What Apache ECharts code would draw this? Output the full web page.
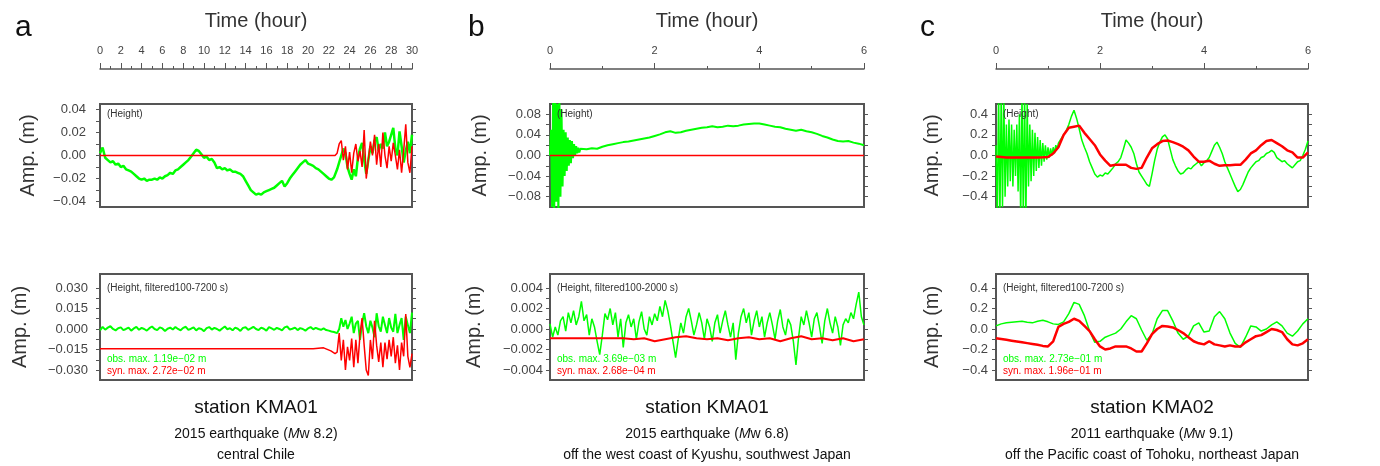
<!DOCTYPE html>
<html>
<head>
<meta charset="utf-8">
<script src="https://cdn.jsdelivr.net/npm/echarts@6/dist/echarts.min.js"></script>
<style>
  html, body { margin: 0; padding: 0; background: #fff; }
  #chart { width: 1380px; height: 466px; }
</style>
</head>
<body>
<div id="chart"></div>
<script>
'use strict';

// ---- panel a : KMA01, 2015 central Chile (hours 0-30) ----
// observed height, 0.25 h steps from 0 to 22.5 h
const aTopObsEarly = [
  0.002, 0.007, -0.002, -0.004, -0.006, -0.005, -0.008, -0.007, -0.010, -0.009,
  -0.012, -0.013, -0.014, -0.016, -0.018, -0.020, -0.021, -0.020, -0.022, -0.021,
  -0.021, -0.020, -0.021, -0.019, -0.020, -0.018, -0.017, -0.015, -0.016, -0.013,
  -0.012, -0.010, -0.008, -0.006, -0.004, -0.001, 0.002, 0.005, 0.004, 0.001,
  -0.002, -0.001, -0.004, -0.003, -0.006, -0.011, -0.010, -0.012, -0.011, -0.013,
  -0.012, -0.014, -0.014, -0.015, -0.016, -0.018, -0.022, -0.026, -0.030, -0.032,
  -0.034, -0.033, -0.034, -0.032, -0.031, -0.030, -0.029, -0.028, -0.026, -0.024,
  -0.022, -0.027, -0.024, -0.020, -0.017, -0.014, -0.011, -0.008, -0.006, -0.004,
  -0.007, -0.008, -0.009, -0.011, -0.012, -0.014, -0.016, -0.018, -0.020, -0.021,
  -0.019
];
// 0.2 h steps from 22.6 to 30 h
const aTopObsLate = [
  -0.019, -0.012, -0.006, 0.000, 0.006, 0.002, -0.010, -0.016, -0.021, -0.012,
  -0.018, -0.002, 0.006, 0.011, -0.004, -0.016, -0.004, 0.008, 0.002, 0.013,
  0.016, 0.004, 0.010, 0.006, 0.020, 0.008, 0.012, 0.018, 0.024, 0.006,
  0.000, 0.021, 0.008, -0.006, 0.004, 0.012, 0.002, 0.018
];
const aTopSynLeadT = [0];
const aTopSynLeadV = [0];
const aTopSynLate = [
  0.000, 0.002, 0.010, 0.013, -0.004, 0.008, -0.012, 0.003, -0.015, 0.002,
  0.010, -0.005, 0.004, -0.010, 0.022, -0.020, -0.004, 0.012, 0.000, 0.018,
  -0.008, 0.010, -0.010, 0.020, 0.000, -0.011, 0.008, -0.005, 0.011, 0.000,
  -0.012, 0.005, -0.015, 0.004, 0.027, -0.006, -0.015, 0.008
];
// filtered 100-7200 s
const aBotObsEarly = [
  -0.0010, 0.0015, -0.0005, 0.0010, 0.0020, 0.0000, -0.0010, 0.0005, 0.0012, -0.0008,
  0.0000, 0.0010, -0.0012, 0.0004, 0.0015, -0.0006, 0.0008, 0.0000, -0.0012, 0.0006,
  0.0018, 0.0000, -0.0008, 0.0012, 0.0004, -0.0015, 0.0002, 0.0010, -0.0004, 0.0014,
  0.0000, -0.0010, 0.0008, 0.0016, -0.0006, 0.0002, 0.0012, -0.0010, 0.0005, 0.0000,
  -0.0016, 0.0006, 0.0014, -0.0004, 0.0008, 0.0000, -0.0012, 0.0004, 0.0018, -0.0002,
  0.0006, -0.0010, 0.0010, 0.0002, -0.0014, 0.0008, 0.0012, -0.0006, 0.0004, 0.0016,
  0.0000, -0.0008, 0.0010, 0.0002, -0.0012, 0.0014, 0.0004, -0.0006, 0.0008, 0.0000,
  -0.0010, 0.0012, 0.0018, -0.0004, 0.0002, 0.0010, -0.0008, 0.0006, 0.0000, -0.0012,
  0.0004, 0.0014, -0.0002, 0.0008, 0.0000, -0.0006, 0.0004, -0.0008, -0.0012, -0.0018,
  -0.0022
];
const aBotObsLate = [
  -0.0025, -0.0030, 0.0000, 0.0078, 0.0017, 0.0066, 0.0000, 0.0040, 0.0090, -0.0030,
  0.0040, 0.0060, -0.0080, 0.0040, 0.0115, 0.0020, -0.0030, 0.0060, 0.0010, -0.0060,
  0.0115, 0.0020, -0.0020, 0.0090, 0.0030, -0.0030, 0.0080, 0.0010, -0.0020, 0.0110,
  -0.0030, 0.0030, 0.0080, -0.0080, 0.0090, 0.0030, -0.0030, 0.0120
];
const aBotSynEarlyT = [0, 20.5, 21.5, 22.2];
const aBotSynEarlyV = [-0.0145, -0.0145, -0.0138, -0.0160];
const aBotSynLate = [
  -0.018, -0.017, -0.003, -0.023, -0.008, -0.030, -0.013, -0.023, -0.007, -0.028,
  -0.008, -0.025, -0.004, 0.008, -0.012, -0.030, -0.034, -0.008, -0.022, 0.006,
  -0.012, -0.024, -0.010, -0.028, -0.010, -0.022, -0.008, -0.020, -0.006, -0.025,
  -0.012, -0.030, -0.010, -0.020, 0.011, -0.020, -0.028, -0.018
];

// ---- panel b : KMA01, 2015 off Kyushu (hours 0-6) ----
const bTopObsEarly = [
  0.00, 0.05, -0.10, 0.12, -0.12, 0.12, -0.09, 0.10, -0.12, 0.11,
  -0.08, 0.09, -0.06, 0.05, -0.04, 0.045, -0.03, 0.035, -0.02, 0.03,
  -0.015, 0.028, -0.005, 0.022, 0.000, 0.018, 0.004, 0.015, 0.006, 0.013,
  0.010
];
const bTopObsLate = [
  0.012, 0.014, 0.013, 0.017, 0.020, 0.022, 0.024, 0.026, 0.027, 0.029,
  0.031, 0.033, 0.035, 0.038, 0.041, 0.045, 0.047, 0.044, 0.045, 0.048,
  0.050, 0.052, 0.054, 0.055, 0.057, 0.055, 0.056, 0.058, 0.057, 0.058,
  0.060, 0.061, 0.062, 0.062, 0.060, 0.058, 0.056, 0.055, 0.052, 0.050,
  0.048, 0.050, 0.047, 0.045, 0.042, 0.038, 0.035, 0.031, 0.028, 0.027,
  0.028, 0.025, 0.023, 0.020
];
const bTopSynT = [0, 6];
const bTopSynV = [0, 0];
// filtered 100-2000 s, 0.05 h steps
const bBotObs = [
  0.0005, -0.0008, 0.0002, -0.0006, 0.0008, 0.0012, -0.0002, 0.0016, 0.0006, 0.0018,
  0.0004, 0.0012, 0.0027, 0.0008, 0.0014, -0.0006, 0.0010, 0.0002, -0.0012, -0.0025,
  -0.0006, 0.0015, 0.0009, 0.0020, 0.0004, 0.0016, -0.0008, 0.0010, -0.0018, 0.0006,
  0.0014, 0.0002, 0.0010, -0.0010, 0.0007, 0.0017, 0.0000, -0.0006, 0.0012, 0.0004,
  0.0015, 0.0008, 0.0022, 0.0012, 0.0028, 0.0018, 0.0004, -0.0012, -0.0028, -0.0010,
  0.0006, -0.0004, 0.0012, 0.0020, 0.0008, -0.0006, 0.0004, 0.0016, 0.0006, -0.0010,
  0.0010, 0.0002, -0.0012, 0.0006, 0.0014, -0.0004, 0.0008, 0.0018, 0.0004, -0.0008,
  0.0006, -0.0030, -0.0004, 0.0012, 0.0020, 0.0006, 0.0016, -0.0006, 0.0008, 0.0018,
  0.0002, 0.0012, -0.0008, 0.0006, 0.0016, 0.0004, -0.0010, 0.0008, 0.0019, 0.0002,
  -0.0006, 0.0010, 0.0004, -0.0012, -0.0035, -0.0008, 0.0012, 0.0004, 0.0018, 0.0006,
  -0.0008, 0.0010, 0.0016, 0.0002, -0.0014, 0.0008, 0.0020, 0.0006, -0.0004, 0.0012,
  0.0002, -0.0016, 0.0004, 0.0010, 0.0006, 0.0016, 0.0010, 0.0024, 0.0036, 0.0012,
  0.0004
];
// 0.2 h steps
const bBotSyn = [
  -0.0009, -0.0009, -0.0009, -0.0009, -0.0009, -0.0009, -0.0009, -0.0009, -0.0010, -0.0009,
  -0.0012, -0.0010, -0.0008, -0.0007, -0.0009, -0.0010, -0.0009, -0.0011, -0.0009, -0.0008,
  -0.0010, -0.0009, -0.0012, -0.0009, -0.0007, -0.0010, -0.0009, -0.0011, -0.0009, -0.0012,
  -0.0010
];

// ---- panel c : KMA02, 2011 off Tohoku (hours 0-6) ----
// 0.025 h steps from 0 to 1.2 h
const cTopObsEarly = [
  0.10, -0.60, 0.60, -0.60, 0.60, -0.50, 0.60, -0.40, 0.30, -0.30,
  0.35, -0.25, 0.30, -0.30, 0.25, -0.20, 0.30, -0.35, 0.40, -0.60,
  0.60, -0.60, 0.60, -0.60, 0.50, -0.30, 0.30, -0.25, 0.25, -0.20,
  0.22, -0.15, 0.18, -0.12, 0.15, -0.10, 0.12, -0.06, 0.10, -0.04,
  0.08, -0.02, 0.07, 0.00, 0.08, 0.02, 0.10, 0.06, 0.12
];
// 0.05 h steps from 1.25 to 6 h
const cTopObsLate = [
  0.16, 0.20, 0.24, 0.30, 0.38, 0.44, 0.36, 0.26, 0.15, 0.08,
  0.02, -0.06, -0.12, -0.18, -0.21, -0.19, -0.20, -0.17, -0.18, -0.15,
  -0.12, -0.08, -0.06, -0.02, 0.06, 0.15, 0.12, 0.08, 0.02, -0.08,
  -0.16, -0.20, -0.24, -0.28, -0.30, -0.18, -0.05, 0.06, 0.13, 0.18,
  0.20, 0.16, 0.06, -0.04, -0.10, -0.15, -0.18, -0.17, -0.14, -0.12,
  -0.13, -0.10, -0.08, -0.06, -0.10, -0.07, -0.05, -0.02, 0.04, 0.10,
  0.13, 0.08, 0.02, -0.06, -0.12, -0.18, -0.24, -0.30, -0.35, -0.33,
  -0.28, -0.22, -0.16, -0.12, -0.09, -0.06, -0.05, -0.02, -0.01, 0.02,
  0.03, 0.05, 0.03, -0.02, -0.04, -0.06, -0.05, -0.08, -0.10, -0.12,
  -0.09, -0.06, -0.05, 0.00, 0.06, 0.14
];
// 0.1 h steps
const cTopSyn = [
  -0.010, -0.015, -0.020, -0.020, -0.020, -0.020, -0.020, -0.020, -0.020, -0.018,
  -0.015, 0.020, 0.080, 0.200, 0.270, 0.280, 0.290, 0.220, 0.160, 0.100,
  0.010, -0.050, -0.100, -0.090, -0.090, -0.090, -0.120, -0.130, -0.120, -0.020,
  0.070, 0.110, 0.140, 0.145, 0.130, 0.110, 0.085, 0.050, -0.010, -0.060,
  -0.060, -0.050, -0.080, -0.100, -0.095, -0.095, -0.090, -0.090, -0.040, 0.020,
  0.050, 0.100, 0.140, 0.150, 0.120, 0.090, 0.050, 0.030, -0.020, -0.020,
  0.030
];
const cBotObs = [
  0.030, 0.050, 0.060, 0.065, 0.070, 0.075, 0.065, 0.060, 0.075, 0.085,
  0.070, 0.050, 0.045, 0.070, 0.150, 0.260, 0.240, 0.130, -0.020, -0.130,
  -0.120, -0.080, -0.060, -0.040, 0.000, 0.070, 0.130, 0.100, -0.010, -0.110,
  -0.050, 0.100, 0.180, 0.180, 0.080, -0.040, -0.100, -0.070, 0.030, 0.060,
  -0.030, -0.020, 0.120, 0.170, 0.100, -0.040, -0.140, -0.180, -0.080, 0.030,
  0.020, -0.020, 0.000, 0.040, 0.070, 0.030, -0.040, -0.070, -0.020, 0.050,
  0.100
];
const cBotSyn = [
  -0.090, -0.098, -0.106, -0.114, -0.122, -0.130, -0.138, -0.146, -0.154, -0.165,
  -0.170, -0.120, 0.020, 0.050, 0.070, 0.100, 0.080, 0.030, -0.020, -0.100,
  -0.170, -0.200, -0.190, -0.170, -0.170, -0.170, -0.190, -0.220, -0.220, -0.140,
  -0.050, 0.000, 0.030, 0.025, 0.015, -0.010, -0.040, -0.080, -0.120, -0.140,
  -0.150, -0.120, -0.150, -0.160, -0.170, -0.160, -0.170, -0.170, -0.130, -0.100,
  -0.070, -0.060, -0.030, 0.000, -0.010, -0.030, -0.100, -0.150, -0.160, -0.140,
  -0.100
];

// ---- axis ticks ----
const aTopYLabels = [-0.04, -0.02, 0, 0.02, 0.04];
const aTopYTicks = [-0.04, -0.03, -0.02, -0.01, 0, 0.01, 0.02, 0.03, 0.04];
const aBotYLabels = [-0.03, -0.015, 0, 0.015, 0.03];
const aBotYTicks = [-0.03, -0.0225, -0.015, -0.0075, 0, 0.0075, 0.015, 0.0225, 0.03];
const bTopYLabels = [-0.08, -0.04, 0, 0.04, 0.08];
const bTopYTicks = [-0.08, -0.06, -0.04, -0.02, 0, 0.02, 0.04, 0.06, 0.08];
const bBotYLabels = [-0.004, -0.002, 0, 0.002, 0.004];
const bBotYTicks = [-0.004, -0.003, -0.002, -0.001, 0, 0.001, 0.002, 0.003, 0.004];
const cYLabels = [-0.4, -0.2, 0, 0.2, 0.4];
const cYTicks = [-0.4, -0.3, -0.2, -0.1, 0, 0.1, 0.2, 0.3, 0.4];

const captions = [
  ['station KMA01', '2015 earthquake ({i|M}w 8.2)', 'central Chile'],
  ['station KMA01', '2015 earthquake ({i|M}w 6.8)', 'off the west coast of Kyushu, southwest Japan'],
  ['station KMA02', '2011 earthquake ({i|M}w 9.1)', 'off the Pacific coast of Tohoku, northeast Japan']
];
const filterNotes = ['(Height, filtered100-7200 s)', '(Height, filtered100-2000 s)', '(Height, filtered100-7200 s)'];
const obsMax = ['obs. max. 1.19e\u221202 m', 'obs. max. 3.69e\u221203 m', 'obs. max. 2.73e\u221201 m'];
const synMax = ['syn. max. 2.72e\u221202 m', 'syn. max. 2.68e\u221204 m', 'syn. max. 1.96e\u221201 m'];

const GREEN = '#00ff00';
const RED = '#ff0000';
const INK = '#333';
const FONT = 'Liberation Sans';

function seg(t0, dt, vals) {
  return vals.map((v, i) => [Math.round((t0 + i * dt) * 1000) / 1000, v]);
}
function pts(ts, vs) {
  return ts.map((t, i) => [t, vs[i]]);
}

const cols = [
  { letter: 'a', left: 100, width: 312, tMax: 30 },
  { letter: 'b', left: 550, width: 314, tMax: 6 },
  { letter: 'c', left: 996, width: 312, tMax: 6 }
];
const rows = [{ top: 104, height: 103 }, { top: 274, height: 106 }];

const plots = [
  { col: 0, row: 0, min: -0.0447, max: 0.0447, labels: aTopYLabels, ticks: aTopYTicks, digits: 2, gap: 62, margin: 14,
    obs: seg(0, 0.25, aTopObsEarly).concat(seg(22.6, 0.2, aTopObsLate)),
    syn: pts(aTopSynLeadT, aTopSynLeadV).concat(seg(22.6, 0.2, aTopSynLate)), ow: 2.5, sw: 1.5 },
  { col: 0, row: 1, min: -0.0373, max: 0.0402, labels: aBotYLabels, ticks: aBotYTicks, digits: 3, gap: 70, margin: 12,
    obs: seg(0, 0.25, aBotObsEarly).concat(seg(22.6, 0.2, aBotObsLate)),
    syn: pts(aBotSynEarlyT, aBotSynEarlyV).concat(seg(22.6, 0.2, aBotSynLate)), ow: 2, sw: 1.5 },
  { col: 1, row: 0, min: -0.1, max: 0.1, labels: bTopYLabels, ticks: bTopYTicks, digits: 2, gap: 60, margin: 9,
    obs: seg(0, 0.02, bTopObsEarly).concat(seg(0.7, 0.1, bTopObsLate)),
    syn: pts(bTopSynT, bTopSynV), ow: 2, sw: 1.5 },
  { col: 1, row: 1, min: -0.00498, max: 0.00537, labels: bBotYLabels, ticks: bBotYTicks, digits: 3, gap: 66, margin: 7,
    obs: seg(0, 0.05, bBotObs), syn: seg(0, 0.2, bBotSyn), ow: 1.5, sw: 2 },
  { col: 2, row: 0, min: -0.5, max: 0.5, labels: cYLabels, ticks: cYTicks, digits: 1, gap: 54, margin: 8,
    obs: seg(0, 0.025, cTopObsEarly).concat(seg(1.25, 0.05, cTopObsLate)),
    syn: seg(0, 0.1, cTopSyn), ow: 1.5, sw: 2.5 },
  { col: 2, row: 1, min: -0.498, max: 0.537, labels: cYLabels, ticks: cYTicks, digits: 1, gap: 54, margin: 8,
    obs: seg(0, 0.1, cBotObs), syn: seg(0, 0.1, cBotSyn), ow: 1.5, sw: 2.5 }
];

const grid = [], xAxis = [], yAxis = [], series = [], graphic = [];

// time axes on top
cols.forEach((c, i) => {
  grid.push({ left: c.left, width: c.width, top: 68, height: 1, show: false });
  xAxis.push({
    gridIndex: i, type: 'value', position: 'top', min: 0, max: c.tMax, interval: 2,
    name: 'Time (hour)', nameLocation: 'middle', nameGap: 37,
    nameTextStyle: { fontFamily: FONT, fontSize: 20, color: INK },
    axisLine: { show: true, lineStyle: { color: '#555', width: 1.5 } },
    axisTick: { show: true, length: 6, lineStyle: { color: '#555' } },
    minorTick: { show: true, splitNumber: 2, length: 3, lineStyle: { color: '#555' } },
    axisLabel: { margin: 12, fontFamily: FONT, fontSize: 11, color: '#444' },
    splitLine: { show: false }
  });
  yAxis.push({ gridIndex: i, type: 'value', show: false });
});

plots.forEach(p => {
  const c = cols[p.col], r = rows[p.row];
  const gi = grid.length;
  grid.push({ left: c.left, width: c.width, top: r.top, height: r.height,
    show: true, borderColor: '#555', borderWidth: 2, backgroundColor: '#fff' });
  xAxis.push({ gridIndex: gi, type: 'value', min: 0, max: c.tMax, show: false });
  const fmt = v => v.toFixed(p.digits).replace('-', '\u2212');
  yAxis.push({
    gridIndex: gi, type: 'value', position: 'left', min: p.min, max: p.max,
    name: 'Amp. (m)', nameLocation: 'middle', nameGap: p.gap,
    nameTextStyle: { fontFamily: FONT, fontSize: 20, color: INK },
    axisLine: { show: false },
    axisTick: { show: true, length: 4, customValues: p.ticks, lineStyle: { color: '#555' } },
    axisLabel: { customValues: p.labels, formatter: fmt, margin: p.margin, fontFamily: FONT, fontSize: 13, color: '#444' },
    splitLine: { show: false }
  });
  yAxis.push({
    gridIndex: gi, type: 'value', position: 'right', min: p.min, max: p.max,
    axisLine: { show: false },
    axisTick: { show: true, length: 4, customValues: p.ticks, lineStyle: { color: '#555' } },
    axisLabel: { show: false },
    splitLine: { show: false }
  });
  const yi = yAxis.length - 2;
  series.push({
    type: 'line', xAxisIndex: gi, yAxisIndex: yi, data: p.obs, showSymbol: false,
    lineStyle: { color: GREEN, width: p.ow }, itemStyle: { color: GREEN }, clip: true, z: 2
  });
  series.push({
    type: 'line', xAxisIndex: gi, yAxisIndex: yi, data: p.syn, showSymbol: false,
    lineStyle: { color: RED, width: p.sw }, itemStyle: { color: RED }, clip: true, z: 3
  });

  // notes inside the boxes
  const tx = c.left + 7;
  if (p.row === 0) {
    graphic.push({ type: 'text', x: tx, y: r.top + 10, z: 10,
      style: { text: '(Height)', fill: INK, font: '10px "' + FONT + '"', verticalAlign: 'middle' } });
  } else {
    graphic.push({ type: 'text', x: tx, y: r.top + 14, z: 10,
      style: { text: filterNotes[p.col], fill: INK, font: '10px "' + FONT + '"', verticalAlign: 'middle' } });
    graphic.push({ type: 'text', x: tx, y: r.top + 85, z: 10,
      style: { text: obsMax[p.col], fill: GREEN, font: '10px "' + FONT + '"', verticalAlign: 'middle' } });
    graphic.push({ type: 'text', x: tx, y: r.top + 97, z: 10,
      style: { text: synMax[p.col], fill: RED, font: '10px "' + FONT + '"', verticalAlign: 'middle' } });
  }
});

// panel letters and captions
const letterX = [15, 468, 920];
cols.forEach((c, i) => {
  graphic.push({ type: 'text', x: letterX[i], y: 28,
    style: { text: c.letter, fill: '#111', font: '30px "' + FONT + '"', verticalAlign: 'middle' } });
  const cx = c.left + c.width / 2;
  graphic.push({ type: 'text', x: cx, y: 408,
    style: { text: captions[i][0], fill: '#111', font: '19px "' + FONT + '"', align: 'center', verticalAlign: 'middle' } });
  graphic.push({ type: 'text', x: cx, y: 434,
    style: { text: captions[i][1], fill: '#111', font: '14px "' + FONT + '"', align: 'center', verticalAlign: 'middle',
      rich: { i: { fontStyle: 'italic', fontSize: 14, fontFamily: FONT, fill: '#111' } } } });
  graphic.push({ type: 'text', x: cx, y: 455,
    style: { text: captions[i][2], fill: '#111', font: '14px "' + FONT + '"', align: 'center', verticalAlign: 'middle' } });
});

const chart = echarts.init(document.getElementById('chart'), null, { renderer: 'canvas' });
chart.setOption({
  animation: false,
  backgroundColor: '#fff',
  grid: grid,
  xAxis: xAxis,
  yAxis: yAxis,
  series: series,
  graphic: graphic
});
</script>
</body>
</html>
